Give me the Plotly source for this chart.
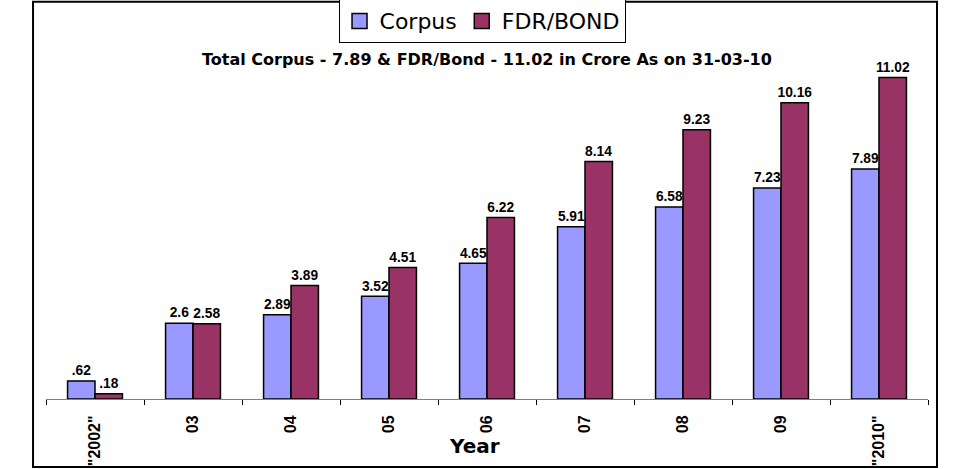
import plotly.graph_objects as go

## Dados
years = ['"2002"', '03', '04', '05', '06', '07', '08', '09', '"2010"']
corpus = [0.62, 2.6, 2.89, 3.52, 4.65, 5.91, 6.58, 7.23, 7.89]
fdr_bond = [0.18, 2.58, 3.89, 4.51, 6.22, 8.14, 9.23, 10.16, 11.02]

title = 'Total Corpus - 7.89 & FDR/Bond - 11.02 in Crore As on 31-03-10'
cores = {'Corpus': '#9999FF', 'FDR/BOND': '#993366'}

def fmt(v):
    # .62 sem zero à esquerda, como no original
    return f'{v:g}'.lstrip('0')

lblfont = dict(family='Arial, Liberation Sans', size=15, color='black', weight='bold')

fig = go.Figure()
for nome, vals in [('Corpus', corpus), ('FDR/BOND', fdr_bond)]:
    fig.add_trace(go.Bar(x=years, y=vals, name=nome, showlegend=False,
                         marker=dict(color=cores[nome], line=dict(color='black', width=1.5)),
                         text=[fmt(v) for v in vals], textposition='outside', cliponaxis=False, textfont=lblfont))
    # só para a legenda (quadrado maior)
    fig.add_trace(go.Scatter(x=[None], y=[None], mode='markers', name=nome,
                             marker=dict(symbol='square', size=15, color=cores[nome], line=dict(color='black', width=1.5))))

fig.update_layout(width=966, height=469, template='plotly_white', plot_bgcolor='white', paper_bgcolor='white',
                  margin=dict(l=46, r=38, t=49, b=70, autoexpand=False), bargap=0.44, bargroupgap=0,
                  barmode='group',
                  font=dict(family='Arial, Liberation Sans', color='black'),
                  legend=dict(orientation='h', xref='container', yref='container', x=0.499, xanchor='center',
                              y=0.955, yanchor='middle', bordercolor='black', borderwidth=1,
                              font=dict(family='DejaVu Sans', size=22), itemwidth=30,
                              traceorder='normal'),
                  uniformtext=dict(minsize=13, mode='show'))

fig.update_xaxes(showline=True, linecolor='#808080', linewidth=1, ticks='outside', tickson='boundaries', ticklen=5,
                 tickcolor='black', tickangle=-90, showgrid=False, automargin=False, ticklabelstandoff=9,
                 tickfont=dict(family='Arial, Liberation Sans', size=16, color='black', weight='bold'))
fig.update_yaxes(range=[0, 12], visible=False, showgrid=False, automargin=False)

fig.add_annotation(text=title, xref='paper', yref='paper', x=0.5, y=0.969, yanchor='middle', showarrow=False,
                   font=dict(family='DejaVu Sans', size=16, weight='bold', color='black'))
fig.add_annotation(text='Year', xref='paper', yref='paper', x=0.486, y=-0.134, yanchor='middle', showarrow=False,
                   font=dict(family='DejaVu Sans', size=20, weight='bold', color='black'))

# moldura ao redor do gráfico
fig.add_shape(type='rect', xref='paper', yref='paper', x0=-0.0147, x1=1.0102, y0=-0.194, y1=1.135,
              line=dict(color='black', width=2))

# tirar a margem padrão do body para o gráfico começar em (0,0)
fig.write_html('out.html', config={'displayModeBar': False},
               post_script="document.body.style.margin='0';")
